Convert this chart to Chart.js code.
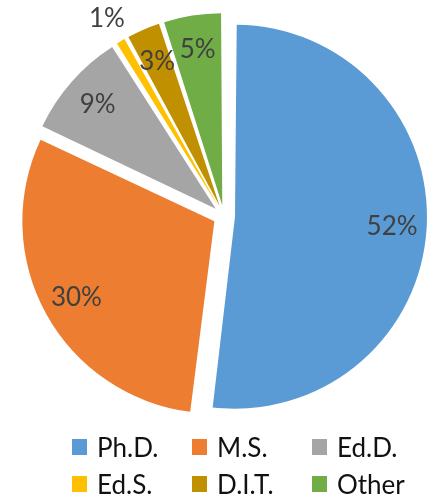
<!DOCTYPE html>
<html>
<head>
<meta charset="utf-8">
<script src="https://cdn.jsdelivr.net/npm/chart.js@4/dist/chart.umd.min.js"></script>
<style>
  body { margin: 0; background: #fff; }
  #wrap { position: relative; width: 439px; height: 497px; }
  #pieBox { position: absolute; left: 0; top: 0; width: 439px; height: 430px; }
  #legend {
    position: absolute; left: 72px; top: 428px;
    display: grid; grid-template-columns: 120px 120px 120px; row-gap: 0;
    font-family: Lato, sans-serif; font-size: 26px; color: #111;
  }
  #legend .item { display: flex; align-items: center; height: 37px; }
  #legend .sw { width: 15px; height: 16px; margin-right: 10px; }
</style>
</head>
<body>
<div id="wrap">
  <div id="pieBox"><canvas id="degreeChart"></canvas></div>
  <div id="legend"></div>
</div>
<script>
const degreeLabels = ['Ph.D.', 'M.S.', 'Ed.D.', 'Ed.S.', 'D.I.T.', 'Other'];
const degreeShares = [52, 30, 9, 1, 3, 5];
const degreeColors = ['#5B9BD5', '#ED7D31', '#A5A5A5', '#FFC000', '#C09000', '#70AD47'];

const explode = 44; // chart.js moves each slice by offset / 4

// chart.js agranda el radio de los sectores separados; se compensa para que todos midan igual
const evenRadius = {
    id: 'evenRadius',
    beforeDatasetsDraw(chart) {
        const meta = chart.getDatasetMeta(0);
        const base = meta.controller.outerRadius;
        meta.data.forEach(arc => {
            const circ = arc.endAngle - arc.startAngle;
            const fix = 1 - Math.sin(Math.min(Math.PI, circ));
            arc.outerRadius = base - (explode / 4) * fix;
        });
    }
};

// etiquetas de porcentaje dentro de cada sector
const pctLabels = {
    id: 'pctLabels',
    afterDatasetsDraw(chart) {
        const ctx = chart.ctx;
        const meta = chart.getDatasetMeta(0);
        const r = meta.controller.outerRadius;
        ctx.save();
        ctx.font = '26px Lato, sans-serif';
        ctx.fillStyle = '#404040';
        ctx.textAlign = 'center';
        ctx.textBaseline = 'middle';
        meta.data.forEach((arc, i) => {
            const mid = (arc.startAngle + arc.endAngle) / 2;
            const f = degreeShares[i] < 2 ? 1.14 : 0.82;
            const d = explode / 4 + r * f;
            ctx.fillText(degreeShares[i] + '%', arc.x + Math.cos(mid) * d, arc.y + Math.sin(mid) * d);
        });
        ctx.restore();
    }
};

const degreeCtx = document.getElementById('degreeChart').getContext('2d');
const degreeChart = new Chart(degreeCtx, {
    type: 'pie',
    data: {
        labels: degreeLabels,
        datasets: [{
            data: degreeShares,
            backgroundColor: degreeColors,
            borderWidth: 0,
            offset: explode
        }]
    },
    options: {
        responsive: true,
        maintainAspectRatio: false,
        animation: false,
        radius: 192,
        layout: { padding: { left: 9, top: 2 } },
        plugins: {
            legend: { display: false },
            tooltip: { enabled: false }
        }
    },
    plugins: [evenRadius, pctLabels]
});

// leyenda en dos filas
const legendEl = document.getElementById('legend');
degreeLabels.forEach((name, i) => {
    const item = document.createElement('div');
    item.className = 'item';
    const sw = document.createElement('span');
    sw.className = 'sw';
    sw.style.background = degreeColors[i];
    item.appendChild(sw);
    item.appendChild(document.createTextNode(name));
    legendEl.appendChild(item);
});
</script>
</body>
</html>
